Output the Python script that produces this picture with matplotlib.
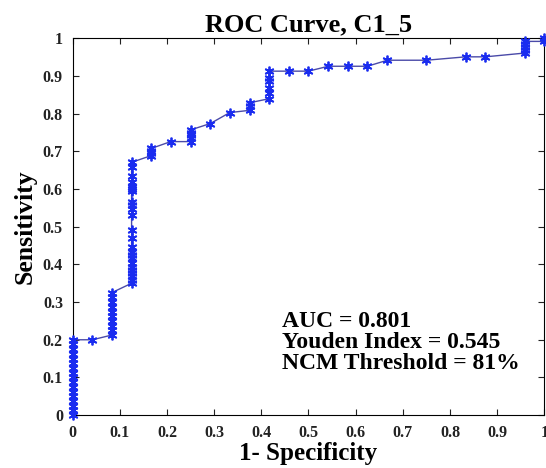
import matplotlib
matplotlib.use("Agg")
import matplotlib.pyplot as plt

# ── Datos de la curva ROC ────────────────────────────────────────────────────
fpr = [0, 0, 0, 0, 0, 0, 0, 0, 0, 0, 0, 0, 0, 0, 0, 0, 0,
       0.042,
       0.083, 0.083, 0.083, 0.083, 0.083, 0.083, 0.083, 0.083, 0.083, 0.083,
       0.125, 0.125, 0.125, 0.125, 0.125, 0.125, 0.125, 0.125, 0.125, 0.125,
       0.125, 0.125, 0.125, 0.125, 0.125, 0.125, 0.125, 0.125, 0.125, 0.125,
       0.125, 0.125, 0.125, 0.125,
       0.167, 0.167, 0.167, 0.167,
       0.208,
       0.25, 0.25, 0.25, 0.25, 0.25,
       0.292, 0.333,
       0.375, 0.375, 0.375,
       0.417, 0.417, 0.417, 0.417, 0.417, 0.417,
       0.458, 0.5, 0.542, 0.583, 0.625, 0.667, 0.75, 0.833, 0.875,
       0.958, 0.958, 0.958, 0.958, 0.958,
       1.0, 1.0]
tpr = [0, 0.0125, 0.025, 0.0375, 0.05, 0.0625, 0.075, 0.0875, 0.1, 0.1125,
       0.125, 0.1375, 0.15, 0.1625, 0.175, 0.1875, 0.2,
       0.2,
       0.2125, 0.225, 0.2375, 0.25, 0.2625, 0.275, 0.2875, 0.3, 0.3125, 0.325,
       0.35, 0.359, 0.368, 0.377, 0.385, 0.394, 0.403, 0.416, 0.425, 0.433,
       0.447, 0.469, 0.491, 0.53, 0.548, 0.557, 0.565, 0.596, 0.601, 0.605,
       0.618, 0.636, 0.658, 0.671,
       0.689, 0.696, 0.702, 0.708,
       0.726,
       0.726, 0.735, 0.743, 0.75, 0.757,
       0.774, 0.803,
       0.809, 0.82, 0.829,
       0.84, 0.856, 0.869, 0.887, 0.894, 0.913,
       0.913, 0.913, 0.926, 0.926, 0.926, 0.942, 0.942, 0.951, 0.951,
       0.961, 0.969, 0.977, 0.984, 0.992,
       0.992, 1.0]

ticks = [0, 0.1, 0.2, 0.3, 0.4, 0.5, 0.6, 0.7, 0.8, 0.9, 1]
tick_labels = ["0", "0.1", "0.2", "0.3", "0.4", "0.5", "0.6", "0.7", "0.8", "0.9", "1"]
stats_text = "AUC = 0.801\nYouden Index = 0.545\nNCM Threshold = 81%"

SERIF = ["Liberation Serif", "DejaVu Serif"]
LINE_COLOR = "#4a4aa8"
MARKER_COLOR = "#1a2cf0"

fig = plt.figure(figsize=(5.46, 4.68), dpi=100)
ax = fig.add_axes([0.133, 0.113, 0.864, 0.805])

# curva ROC: línea fina + asteriscos azules (estilo MATLAB '*')
ax.plot(fpr, tpr, color=LINE_COLOR, linewidth=1.0, marker=(6, 2, 0),
        markersize=7, markeredgewidth=1.3, markerfacecolor=MARKER_COLOR,
        markeredgecolor=MARKER_COLOR, clip_on=False, zorder=3)

ax.set_xlim(0, 1)
ax.set_ylim(0, 1)
ax.set_xticks(ticks)
ax.set_yticks(ticks)
ax.set_xticklabels(tick_labels, fontfamily=SERIF, fontweight="bold", fontsize=11.5)
ax.set_yticklabels(tick_labels, fontfamily=SERIF, fontweight="bold", fontsize=11.5)
ax.tick_params(direction="in", length=4, width=0.8, top=True, right=True,
               pad=7, colors="#222222")
for s in ax.spines.values():
    s.set_linewidth(0.8)

ax.set_title("ROC Curve, C1_5", fontfamily=SERIF, fontweight="bold",
             fontsize=19, pad=5)
ax.set_xlabel("1- Specificity", fontfamily=SERIF, fontweight="bold",
              fontsize=18, labelpad=1)
ax.set_ylabel("Sensitivity", fontfamily=SERIF, fontweight="bold",
              fontsize=18.5, labelpad=4)

ax.text(0.443, 0.277, stats_text, fontfamily=SERIF, fontweight="bold",
        fontsize=17, va="top", ha="left", linespacing=1.0)

fig.savefig("out.png", dpi=100)
